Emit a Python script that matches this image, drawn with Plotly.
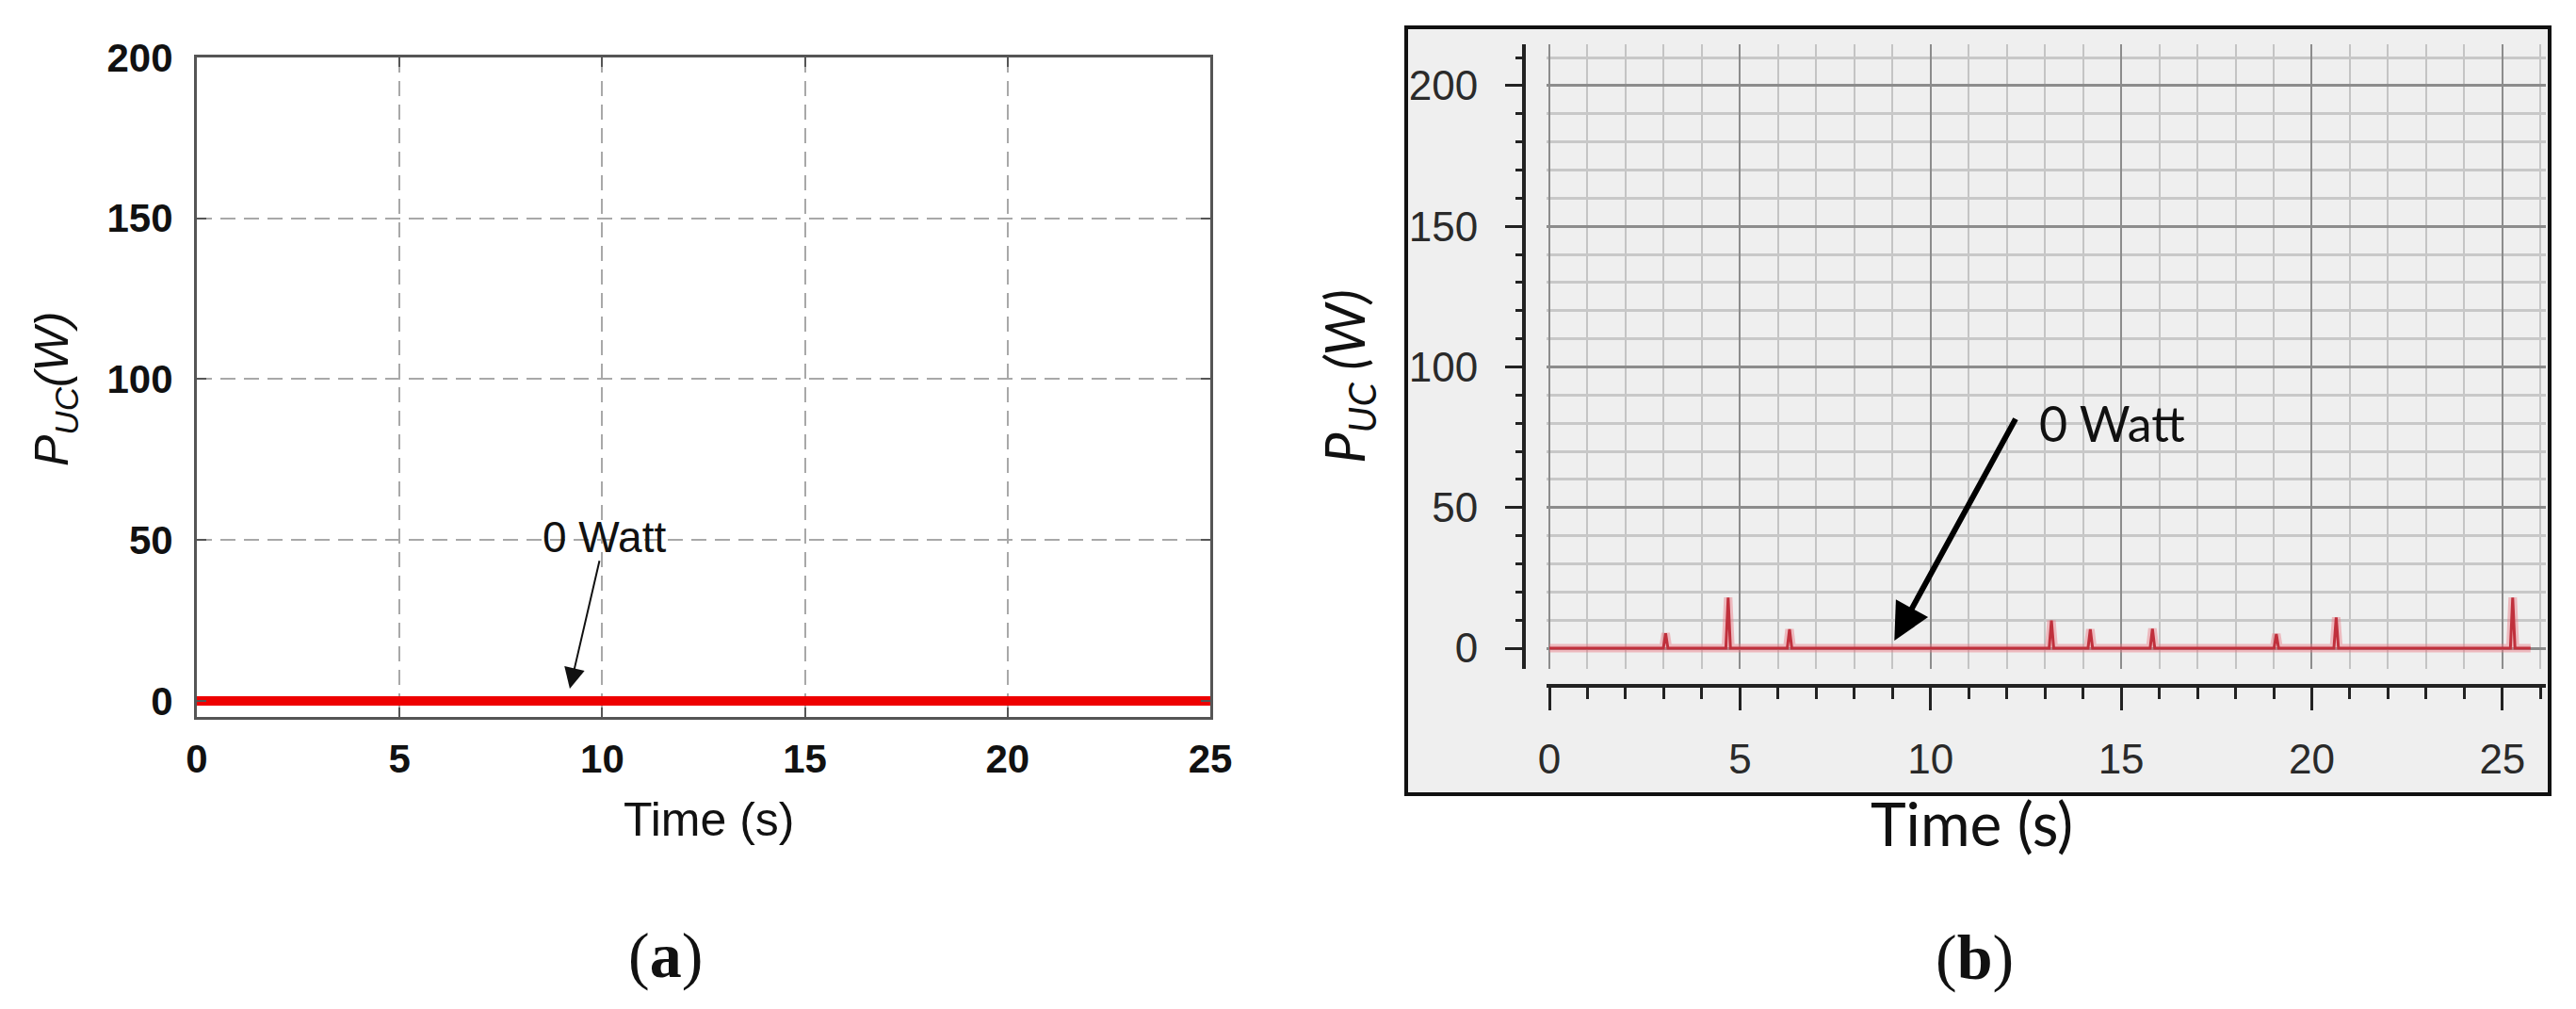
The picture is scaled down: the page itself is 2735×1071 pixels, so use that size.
import plotly.graph_objects as go

W, H = 2735, 1071

# ---------------- data ----------------
# panel (a): simulated UC power (flat at 0 W)
time_a = [0, 25]
power_a = [0, 0]

# panel (b): measured UC power, small spikes on a 0 W baseline
t_start_b, t_end_b = 0.0, 25.74
spike_times = [3.05, 4.69, 6.30, 13.17, 14.19, 15.82, 19.07, 20.64, 25.27]
spike_peaks = [5.3, 18.0, 6.7, 9.8, 6.7, 6.9, 5.0, 10.9, 18.0]
spike_half_width = 0.06

x_ticks = [0, 5, 10, 15, 20, 25]
y_ticks = [0, 50, 100, 150, 200]

# build measured trace from read values
time_b = [t_start_b]
power_b = [0.0]
for t, p in zip(spike_times, spike_peaks):
    time_b += [t - spike_half_width, t, t + spike_half_width]
    power_b += [0.0, p, 0.0]
time_b.append(t_end_b)
power_b.append(0.0)

OFF = 8  # page body margin of the html wrapper


def px(v):
    return (v - OFF) / W


def py(v):
    return 1 - (v - OFF) / H


fig = go.Figure()

# panel (a)
fig.add_trace(go.Scatter(x=time_a, y=power_a, mode="lines",
                         line=dict(color="#ee0000", width=10),
                         xaxis="x", yaxis="y", showlegend=False))

# panel (b)
fig.add_trace(go.Scatter(x=time_b, y=power_b, mode="lines",
                         line=dict(color="rgba(235,120,130,0.45)", width=9),
                         xaxis="x2", yaxis="y2", showlegend=False))
fig.add_trace(go.Scatter(x=time_b, y=power_b, mode="lines",
                         line=dict(color="#c0303c", width=3),
                         xaxis="x2", yaxis="y2", showlegend=False))

tick_font_a = dict(family="Liberation Sans, Arial", size=42, color="#111111", weight="bold")
tick_font_b = dict(family="Liberation Sans, Arial", size=44, color="#2a2a2a")

fig.update_layout(
    width=W, height=H, autosize=False,
    margin=dict(l=0, r=0, t=0, b=0, pad=0),
    paper_bgcolor="white",
    plot_bgcolor="rgba(0,0,0,0)",
    xaxis=dict(
        domain=[px(209), px(1285)], range=[0, 25], anchor="y", automargin=False,
        tickvals=x_ticks, ticks="inside", ticklen=10, tickwidth=2, tickcolor="#555555",
        showline=True, linecolor="#555555", linewidth=3, mirror="ticks",
        showgrid=True, gridcolor="#a8a8a8", gridwidth=2, griddash="16px,9px",
        zeroline=False, tickfont=tick_font_a, ticklabelstandoff=6,
    ),
    yaxis=dict(
        domain=[py(761), py(61)], range=[-5, 200], anchor="x", automargin=False,
        tickvals=y_ticks, ticks="inside", ticklen=10, tickwidth=2, tickcolor="#555555",
        showline=True, linecolor="#555555", linewidth=3, mirror="ticks",
        showgrid=True, gridcolor="#a8a8a8", gridwidth=2, griddash="16px,9px",
        zeroline=False, tickfont=tick_font_a, ticklabelstandoff=14,
    ),
    xaxis2=dict(
        domain=[px(1642), px(2703)], range=[-0.074, 26.14], automargin=False,
        anchor="free", position=py(728),
        tickvals=x_ticks, ticks="outside", ticklen=24, tickwidth=3, tickcolor="#222222",
        showline=True, linecolor="#222222", linewidth=4,
        showgrid=True, gridcolor="#8c8c8c", gridwidth=2,
        minor=dict(dtick=1, ticks="outside", ticklen=12, tickwidth=3, tickcolor="#222222",
                   showgrid=True, gridcolor="#c4c4c4", gridwidth=2),
        zeroline=False, tickfont=tick_font_b, ticklabelstandoff=14,
    ),
    yaxis2=dict(
        domain=[py(710), py(47)], range=[-7.37, 214.7], automargin=False,
        anchor="free", position=px(1618),
        tickvals=y_ticks, ticks="outside", ticklen=18, tickwidth=3, tickcolor="#222222",
        showline=True, linecolor="#222222", linewidth=4,
        showgrid=True, gridcolor="#8c8c8c", gridwidth=3,
        minor=dict(dtick=10, ticks="outside", ticklen=7, tickwidth=3, tickcolor="#222222",
                   showgrid=True, gridcolor="#c8c8c8", gridwidth=3),
        zeroline=False, tickfont=tick_font_b, ticklabelstandoff=20,
    ),
)

# panel (b) frame
fig.add_shape(type="rect", xref="paper", yref="paper",
              x0=px(1493), x1=px(2707), y0=py(843), y1=py(29),
              line=dict(color="#111111", width=4), fillcolor="#efefef", layer="below")

C = dict(xanchor="center", yanchor="middle", showarrow=False)
ann = []
# axis titles (a)
ann.append(dict(xref="paper", yref="paper", x=px(753), y=py(870), text="Time (s)",
                font=dict(family="Liberation Sans, Arial", size=50, color="#111111"), **C))
ann.append(dict(xref="paper", yref="paper", x=px(58), y=py(413), textangle=-90,
                text="<i>P<sub>UC</sub>(W)</i>",
                font=dict(family="Liberation Sans, Arial", size=50, color="#111111"), **C))
# axis titles (b)
ann.append(dict(xref="paper", yref="paper", x=px(2093), y=py(873), text="Time (s)",
                font=dict(family="Lato, Open Sans", size=64, color="#111111"), **C))
ann.append(dict(xref="paper", yref="paper", x=px(1431), y=py(400), textangle=-90,
                text="<i>P<sub>UC</sub> (W)</i>",
                font=dict(family="Lato, Open Sans", size=58, color="#111111"), **C))
# panel labels
ann.append(dict(xref="paper", yref="paper", x=px(706), y=py(1014), text="(<b>a</b>)",
                font=dict(family="Liberation Serif, DejaVu Serif", size=68, color="#111111"), **C))
ann.append(dict(xref="paper", yref="paper", x=px(2096), y=py(1016), text="(<b>b</b>)",
                font=dict(family="Liberation Serif, DejaVu Serif", size=68, color="#111111"), **C))
# "0 Watt" annotations (a)
ann.append(dict(xref="x", yref="y", x=10.04, y=50.9, text="0 Watt",
                font=dict(family="Liberation Sans, Arial", size=46, color="#111111"), **C))
ann.append(dict(xref="x", yref="y", x=9.2, y=3.8, axref="x", ayref="y", ax=9.94, ay=44.0,
                text="", showarrow=True, arrowhead=2, arrowsize=2.2, arrowwidth=2,
                arrowcolor="#111111"))
# "0 Watt" annotations (b)
ann.append(dict(xref="x2", yref="y2", x=12.8, y=80, xanchor="left", yanchor="middle",
                text="0 Watt", showarrow=False,
                font=dict(family="Lato, Open Sans", size=52, color="#111111")))
ann.append(dict(xref="x2", yref="y2", x=9.05, y=2.7, axref="x2", ayref="y2", ax=12.25, ay=82,
                text="", showarrow=True, arrowhead=2, arrowsize=1.3, arrowwidth=6,
                arrowcolor="#000000"))
fig.update_layout(annotations=ann)

fig.write_html("out.html")
